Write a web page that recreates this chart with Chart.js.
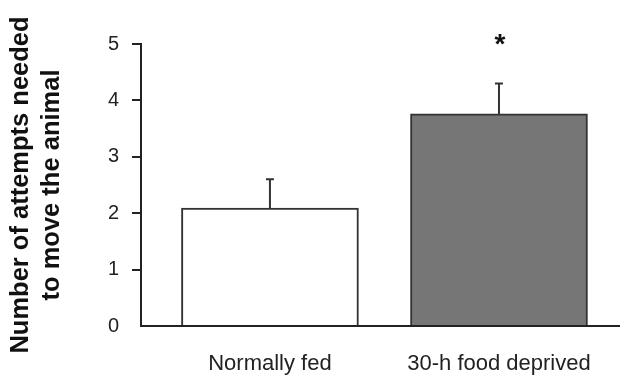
<!DOCTYPE html>
<html>
<head>
<meta charset="utf-8">
<script src="https://cdn.jsdelivr.net/npm/chart.js@4.4.0/dist/chart.umd.min.js"></script>
<style>
  html, body { margin: 0; padding: 0; background: #fff; }
  #wrap { width: 620px; height: 375px; }
</style>
</head>
<body>
<div id="wrap"><canvas id="attemptsChart"></canvas></div>
<script>
// data
const categories = ['Normally fed', '30-h food deprived'];
const means = [2.09, 3.76];
const errors = [0.51, 0.54];
const significance = ['', '*'];
const yTicks = [0, 1, 2, 3, 4, 5];

const fillColors = ['#ffffff', '#767676'];
const font = '"Liberation Sans", Arial, sans-serif';

// draws the upper error bars and the significance star
const errorBars = {
    id: 'errorBars',
    afterDatasetsDraw(chart) {
        const ctx = chart.ctx;
        const x = chart.scales.x;
        const y = chart.scales.y;
        ctx.save();
        ctx.strokeStyle = '#333';
        ctx.lineWidth = 2;
        means.forEach((m, i) => {
            const px = x.getPixelForValue(i);
            const top = y.getPixelForValue(m + errors[i]);
            ctx.beginPath();
            ctx.moveTo(px, y.getPixelForValue(m));
            ctx.lineTo(px, top);
            ctx.moveTo(px - 4, top);
            ctx.lineTo(px + 4, top);
            ctx.stroke();
            if (significance[i]) {
                ctx.fillStyle = '#111';
                ctx.font = 'bold 28px ' + font;
                ctx.textAlign = 'center';
                ctx.textBaseline = 'middle';
                ctx.fillText(significance[i], px + 1, 45);
            }
        });
        ctx.restore();
    }
};

new Chart(document.getElementById('attemptsChart').getContext('2d'), {
    type: 'bar',
    data: {
        datasets: [{
            data: means.map((v, i) => ({ x: i, y: v })),
            backgroundColor: fillColors,
            borderColor: '#333',
            borderWidth: 2,
            barThickness: 177,
        }],
    },
    options: {
        responsive: true,
        maintainAspectRatio: false,
        animation: false,
        layout: { padding: { top: 44, right: 1, left: 0, bottom: 0 } },
        plugins: {
            legend: { display: false },
            tooltip: { enabled: false },
        },
        scales: {
            x: {
                type: 'linear',
                offset: false,
                min: -0.563,
                max: 1.524,
                afterBuildTicks: (axis) => { axis.ticks = categories.map((c, i) => ({ value: i })); },
                afterFit: (axis) => { axis.height = 49; },
                grid: { display: false, drawTicks: false, offset: false },
                border: { display: true, color: '#222', width: 2 },
                ticks: {
                    callback: (v) => categories[v],
                    color: '#222',
                    font: { family: font, size: 22 },
                    padding: 25,
                    maxRotation: 0,
                    autoSkip: false,
                },
            },
            y: {
                min: 0,
                max: 5,
                afterBuildTicks: (axis) => { axis.ticks = yTicks.map(v => ({ value: v })); },
                afterFit: (axis) => { axis.width = 141; },
                grid: {
                    drawOnChartArea: false,
                    tickLength: 9,
                    lineWidth: 2,
                    color: (c) => c.tick && c.tick.value === 0 ? 'rgba(0,0,0,0)' : '#222',
                },
                border: { color: '#222', width: 2 },
                ticks: {
                    color: '#222',
                    font: { family: font, size: 20 },
                    padding: 13,
                },
                title: {
                    display: true,
                    text: ['Number of attempts needed', 'to move the animal'],
                    color: '#111',
                    font: { family: font, size: 25.5, weight: 'bold', lineHeight: 1.2 },
                    padding: { top: 6, bottom: 0 },
                },
            },
        },
    },
    plugins: [errorBars],
});
</script>
</body>
</html>
